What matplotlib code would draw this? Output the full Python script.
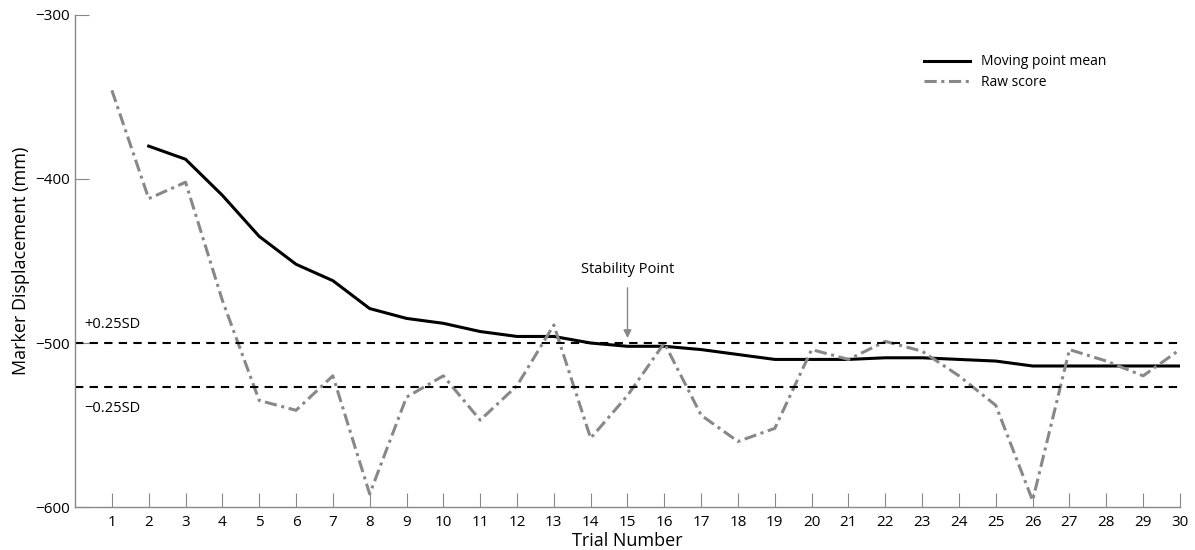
import matplotlib.pyplot as plt

# Data
trials = list(range(1, 31))
raw_score = [-346, -412, -402, -474, -535, -541, -520, -592, -533, -520,
             -547, -526, -489, -558, -532, -500, -544, -560, -552, -504,
             -510, -499, -505, -520, -538, -596, -504, -511, -520, -504]
mean_trials = list(range(2, 31))
moving_mean = [-380, -388, -410, -435, -452, -462, -479, -485, -488, -493,
               -496, -496, -500, -502, -502, -504, -507, -510, -510, -510,
               -509, -509, -510, -511, -514, -514, -514, -514, -514]
upper_sd = -500
lower_sd = -527
stability_trial = 15


def main():
    plt.rcParams['font.family'] = ['Open Sans', 'DejaVu Sans']
    fig = plt.figure(figsize=(11.95, 5.5), dpi=100)
    ax = fig.add_axes([0.0628, 0.078, 0.9246, 0.895])

    ax.plot(mean_trials, moving_mean, color='black', lw=2.2, label='Moving point mean')
    ax.plot(trials, raw_score, color='#888888', lw=2.2, ls=(0, (4, 1.5, 1, 1.5)),
            label='Raw score')
    ax.axhline(upper_sd, color='black', lw=1.5, ls=(0, (4, 3)))
    ax.axhline(lower_sd, color='black', lw=1.5, ls=(0, (4, 3)))

    ax.text(0.25, -489, '+0.25SD', fontsize=10.5, va='center', ha='left')
    ax.text(0.25, -540, '\u22120.25SD', fontsize=10.5, va='center', ha='left')

    ax.annotate('Stability Point', xy=(stability_trial, -497),
                xytext=(stability_trial, -455), ha='center', va='center', fontsize=10.5,
                arrowprops=dict(arrowstyle='-|>', color='#888888', lw=1,
                                mutation_scale=12, shrinkA=6, shrinkB=0))

    ax.set_xlim(0, 30)
    ax.set_ylim(-600, -300)
    ax.set_xticks(trials)
    ax.set_yticks([-600, -500, -400, -300])
    ax.set_yticklabels(['\u2212600', '\u2212500', '\u2212400', '\u2212300'])
    ax.tick_params(direction='in', length=10, color='#888888', labelsize=11)
    ax.tick_params(axis='x', pad=6)
    for s in ['top', 'right']:
        ax.spines[s].set_visible(False)
    for s in ['left', 'bottom']:
        ax.spines[s].set_color('#888888')
        ax.spines[s].set_linewidth(1)

    ax.set_xlabel('Trial Number', fontsize=13, labelpad=1)
    ax.set_ylabel('Marker Displacement (mm)', fontsize=13, labelpad=4)
    ax.legend(loc='upper right', bbox_to_anchor=(0.945, 0.945), frameon=False,
              fontsize=10, handlelength=3.3, labelspacing=0.4)

    fig.savefig('out.png', dpi=100)


if __name__ == "__main__":
    main()
